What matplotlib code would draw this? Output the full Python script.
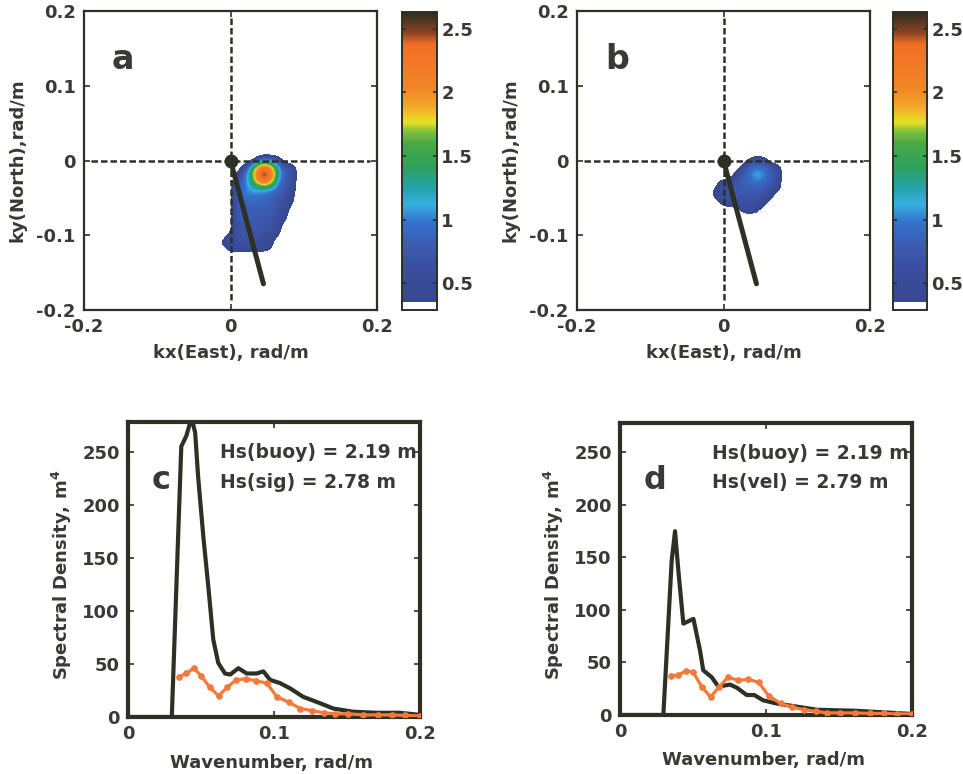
import numpy as np
import matplotlib
matplotlib.use('Agg')
import matplotlib.pyplot as plt
from matplotlib.colors import LinearSegmentedColormap

plt.rcParams['font.family'] = 'DejaVu Sans'
plt.rcParams['font.weight'] = 'bold'
plt.rcParams['axes.labelweight'] = 'bold'
plt.rcParams['font.size'] = 13

TXT = '#3a3a34'
INK = '#2c3124'

# 2D wavenumber spectra, grid centres
kx = [-0.025, -0.015, -0.005, 0.005, 0.015, 0.025, 0.035, 0.045, 0.055, 0.065, 0.075, 0.085, 0.095]
ky = [0.01, 0.0, -0.01, -0.02, -0.03, -0.04, -0.05, -0.06, -0.07, -0.08, -0.09, -0.10, -0.11,
      -0.12, -0.13]

spec_a = [
    [0, 0, 0, 0, 0, 0, 0, 0, 0, 0, 0, 0, 0],
    [0, 0, 0, 0, 0, 0, 0.55, 0.95, 0.85, 0.55, 0, 0, 0],
    [0, 0, 0, 0, 0.4, 1.05, 1.9, 2.35, 1.9, 1.05, 0.75, 0.55, 0],
    [0, 0, 0, 0.35, 0.75, 1.25, 2.35, 2.65, 2.35, 1.1, 0.8, 0.6, 0],
    [0, 0, 0, 0.6, 0.9, 1.15, 1.9, 2.35, 1.9, 0.95, 0.75, 0.55, 0],
    [0, 0, 0, 0.65, 0.95, 1.08, 1.12, 1.12, 1.0, 0.85, 0.7, 0.5, 0],
    [0, 0, 0, 0.7, 0.9, 1.0, 0.95, 0.9, 0.85, 0.75, 0.6, 0.4, 0],
    [0, 0, 0, 0.7, 0.8, 0.85, 0.85, 0.85, 0.8, 0.7, 0.55, 0.35, 0],
    [0, 0, 0, 0.7, 0.8, 0.8, 0.8, 0.8, 0.75, 0.65, 0.5, 0, 0],
    [0, 0, 0, 0.7, 0.75, 0.75, 0.75, 0.75, 0.7, 0.6, 0.4, 0, 0],
    [0, 0, 0, 0.65, 0.72, 0.75, 0.75, 0.7, 0.65, 0.55, 0, 0, 0],
    [0, 0, 0.4, 0.65, 0.7, 0.7, 0.7, 0.65, 0.6, 0.45, 0, 0, 0],
    [0, 0.45, 0.6, 0.65, 0.65, 0.65, 0.62, 0.6, 0.5, 0, 0, 0, 0],
    [0, 0, 0.45, 0.55, 0.55, 0.55, 0.55, 0.5, 0.4, 0, 0, 0, 0],
    [0, 0, 0, 0, 0, 0, 0, 0, 0, 0, 0, 0, 0],
]

spec_b = [
    [0, 0, 0, 0, 0, 0, 0, 0, 0, 0, 0, 0, 0],
    [0, 0, 0, 0, 0, 0, 0.5, 0.65, 0.55, 0, 0, 0, 0],
    [0, 0, 0, 0, 0, 0.6, 0.85, 0.95, 0.9, 0.75, 0.5, 0, 0],
    [0, 0, 0, 0, 0.55, 0.75, 1.0, 1.2, 1.05, 0.8, 0.55, 0, 0],
    [0, 0, 0.55, 0.6, 0.7, 0.8, 0.9, 1.0, 0.9, 0.75, 0.5, 0, 0],
    [0, 0.4, 0.6, 0.65, 0.75, 0.8, 0.8, 0.8, 0.75, 0.65, 0.45, 0, 0],
    [0, 0.4, 0.6, 0.65, 0.7, 0.7, 0.7, 0.7, 0.6, 0.45, 0, 0, 0],
    [0, 0, 0.4, 0.55, 0.6, 0.65, 0.65, 0.6, 0.5, 0, 0, 0, 0],
    [0, 0, 0, 0, 0, 0.45, 0.5, 0.45, 0, 0, 0, 0, 0],
    [0, 0, 0, 0, 0, 0, 0, 0, 0, 0, 0, 0, 0],
    [0, 0, 0, 0, 0, 0, 0, 0, 0, 0, 0, 0, 0],
    [0, 0, 0, 0, 0, 0, 0, 0, 0, 0, 0, 0, 0],
    [0, 0, 0, 0, 0, 0, 0, 0, 0, 0, 0, 0, 0],
    [0, 0, 0, 0, 0, 0, 0, 0, 0, 0, 0, 0, 0],
    [0, 0, 0, 0, 0, 0, 0, 0, 0, 0, 0, 0, 0],
]

# mean direction line
dir_kx = [0.0, 0.045]
dir_ky = [0.0, -0.165]

# 1D spectra
k_buoy_c = [0.0, 0.030, 0.0365, 0.040, 0.0435, 0.046, 0.048, 0.0516, 0.055, 0.0584, 0.0618, 0.0664,
            0.070, 0.0756, 0.0813, 0.088, 0.0927, 0.0973, 0.104, 0.111, 0.120, 0.1315, 0.1406,
            0.154, 0.170, 0.186, 0.2]
s_buoy_c = [0, 0, 255, 265, 282, 268, 227, 170, 123, 73, 51, 41,
            40, 46, 41, 41, 43, 35, 32, 27, 19, 13, 8,
            5, 4, 4, 2]

k_buoy_d = [0.0, 0.0297, 0.0354, 0.0377, 0.040, 0.0434, 0.048, 0.0503, 0.0548, 0.057, 0.0628,
            0.0674, 0.0753, 0.080, 0.0868, 0.092, 0.098, 0.107, 0.121, 0.135, 0.162, 0.2]
s_buoy_d = [0, 0, 147, 175, 137, 87, 90, 91.5, 61.5, 42.6, 36,
            27, 29, 26, 19, 19, 14, 11, 8, 5, 4, 1]

k_radar = [0.035, 0.040, 0.045, 0.050, 0.056, 0.062, 0.068, 0.074, 0.081, 0.088, 0.095, 0.102,
           0.110, 0.118, 0.126, 0.134, 0.142, 0.151, 0.161, 0.171, 0.181, 0.190, 0.200]
s_sig = [38, 41, 46, 39, 28, 20, 28, 35, 36, 34, 32, 19,
         14, 8, 6, 4, 3, 3, 2, 2, 2, 1.5, 1]
s_vel = [37, 38, 42, 41, 27, 17, 27, 36, 33, 34, 31, 18,
         11, 7.5, 5, 3.5, 2, 2, 2, 1.5, 1.5, 1, 1]

# colormap (values -> colours)
vmin, vmax = 0.29, 2.63
stops = [(0.29, '#ffffff'), (0.345, '#ffffff'), (0.35, '#37488f'), (0.62, '#3b4e9e'),
         (0.80, '#3c5cb4'), (0.98, '#3472cc'), (1.12, '#38b0e2'), (1.25, '#22a2a8'),
         (1.42, '#30a058'), (1.60, '#48aa44'), (1.70, '#88c23c'), (1.76, '#e6e224'),
         (1.90, '#f2a22a'), (2.05, '#f28426'), (2.38, '#f06e26'), (2.47, '#8c4222'),
         (2.63, '#2c2e20')]
cmap = LinearSegmentedColormap.from_list(
    'spec', [((v - vmin) / (vmax - vmin), c) for v, c in stops], N=512)
cmap.set_under('white')

W, H = 963, 774
fig = plt.figure(figsize=(W / 100, H / 100), dpi=100)


def px_axes(x0, y0, x1, y1):
    return fig.add_axes([x0 / W, 1 - y1 / H, (x1 - x0) / W, (y1 - y0) / H])


def style(ax, lw):
    for s in ax.spines.values():
        s.set_linewidth(lw)
        s.set_color(INK)
    ax.tick_params(direction='in', top=True, right=True, length=4, width=1.2,
                   colors=INK, labelcolor=TXT, labelsize=13, pad=6)


dx = 0.01
extent = [kx[0] - dx / 2, kx[-1] + dx / 2, ky[-1] - dx / 2, ky[0] + dx / 2]

panels = [((84, 11, 377, 310), (402, 12, 437, 310), spec_a, 'a'),
          ((577, 11, 870, 310), (893, 12, 927, 310), spec_b, 'b')]
for box, cbox, spec, letter in panels:
    ax = px_axes(*box)
    im = ax.imshow(np.array(spec), extent=extent, origin='upper', cmap=cmap,
                   vmin=vmin, vmax=vmax, interpolation='bicubic', aspect='auto', zorder=1)
    ax.plot([-0.19, 0.19], [0, 0], color=INK, lw=1.8, ls=(0, (2.6, 1.2)), zorder=2)
    ax.plot([0, 0], [0.19, -0.19], color=INK, lw=1.8, ls=(0, (2.6, 1.2)), zorder=2)
    ax.plot(dir_kx, dir_ky, color=INK, lw=3.6, solid_capstyle='round', zorder=3)
    ax.plot(dir_kx[:1], dir_ky[:1], 'o', color=INK, ms=9, zorder=4)
    ax.set_xlim(-0.2, 0.2)
    ax.set_ylim(-0.2, 0.2)
    ax.set_xticks([-0.2, 0, 0.2])
    ax.set_xticklabels(['-0.2', '0', '0.2'])
    ax.set_yticks([-0.2, -0.1, 0, 0.1, 0.2])
    ax.set_yticklabels(['-0.2', '-0.1', '0', '0.1', '0.2'])
    style(ax, 1.6)
    ax.set_xlabel('kx(East), rad/m', color=TXT, fontsize=13)
    ax.set_ylabel('ky(North),rad/m', color=TXT, fontsize=13)
    ax.xaxis.set_label_coords(0.5, -0.115)
    ax.yaxis.set_label_coords(-0.195, 0.5)
    ax.text(-0.162, 0.122, letter, fontsize=24, color=TXT, ha='left', va='baseline')

    cax = px_axes(*cbox)
    cb = fig.colorbar(im, cax=cax)
    cb.set_ticks([0.5, 1, 1.5, 2, 2.5])
    cb.set_ticklabels(['0.5', '1', '1.5', '2', '2.5'])
    cb.outline.set_linewidth(1.4)
    cb.outline.set_edgecolor(INK)
    cax.tick_params(direction='in', left=True, right=True, length=3, width=1.2,
                    colors=INK, labelcolor=TXT, labelsize=13, pad=3)

lower = [((128, 422, 420, 717), k_buoy_c, s_buoy_c, s_sig, 'c', 'Hs(sig) = 2.78 m'),
         ((620, 423, 912, 715), k_buoy_d, s_buoy_d, s_vel, 'd', 'Hs(vel) = 2.79 m')]
for box, kb, sb, sr, letter, hs in lower:
    ax = px_axes(*box)
    ax.plot(kb, sb, color=INK, lw=3.0, zorder=3)
    ax.plot(k_radar, sr, color='#f4793a', lw=2.3, marker='o', ms=3.8, zorder=4)
    ax.set_xlim(0, 0.2)
    ax.set_ylim(0, 278)
    ax.set_xticks([0, 0.1, 0.2])
    ax.set_xticklabels(['0', '0.1', '0.2'])
    ax.set_yticks([0, 50, 100, 150, 200, 250])
    style(ax, 3.0)
    ax.set_xlabel('Wavenumber, rad/m', color=TXT, fontsize=13)
    ax.set_ylabel('Spectral Density, m$^\\mathbf{4}$', color=TXT, fontsize=13)
    ax.xaxis.set_label_coords(0.49, -0.125)
    ax.yaxis.set_label_coords(-0.185, 0.48)
    ax.text(0.016, 215, letter, fontsize=23, color=TXT, ha='left', va='baseline')
    ax.text(0.063, 249, 'Hs(buoy) = 2.19 m', color=TXT, fontsize=13.5, va='center', ha='left')
    ax.text(0.063, 221, hs, color=TXT, fontsize=13.5, va='center', ha='left')

fig.savefig('out.png', dpi=100)
